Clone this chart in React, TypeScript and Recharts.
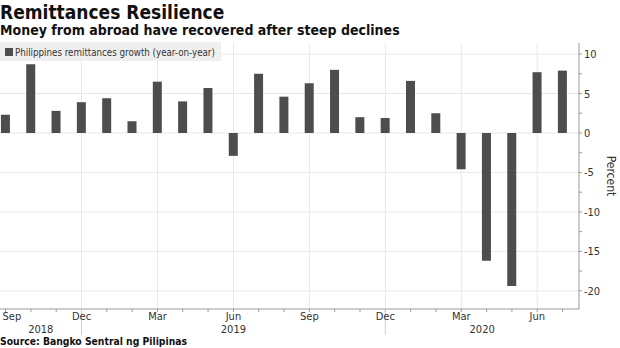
import { BarChart, Bar, XAxis, YAxis, CartesianGrid } from "recharts";

const MONTHS = [
  "Sep", "Oct", "Nov", "Dec",
  "Jan", "Feb", "Mar", "Apr", "May", "Jun", "Jul", "Aug", "Sep", "Oct", "Nov", "Dec",
  "Jan", "Feb", "Mar", "Apr", "May", "Jun", "Jul",
];
const YEARS = ["2018", "2019", "2020"];
// year of each month, by index into YEARS
const MONTH_YEAR = [0, 0, 0, 0, 1, 1, 1, 1, 1, 1, 1, 1, 1, 1, 1, 1, 2, 2, 2, 2, 2, 2, 2];
const GROWTH = [
  2.3, 8.7, 2.8, 3.9,
  4.4, 1.5, 6.5, 4.0, 5.7, -2.9, 7.5, 4.6, 6.3, 8.0, 2.0, 1.9,
  6.6, 2.5, -4.6, -16.2, -19.4, 7.7, 7.9,
];
const Y_TICKS = [-20, -17.5, -15, -12.5, -10, -7.5, -5, -2.5, 0, 2.5, 5, 7.5, 10];
const Y_GRID = [-20, -15, -10, -5, 0, 5, 10];

const FONT = '"DejaVu Sans Condensed", "DejaVu Sans", sans-serif';
const BAR = "#4d4d4d";
const GRID = "#e8e8e8";
const AXIS = "#9a9a9a";
const TEXT = "#333";

const X_DOMAIN: [number, number] = [-0.22, 22.65];

const data = MONTHS.map((m, i) => ({ idx: i, month: m, growth: GROWTH[i] }));

// year labels sit halfway between the Dec separators (or the axis ends)
const yearTicks = YEARS.map((_, y) => {
  const idxs = MONTH_YEAR.map((v, i) => (v === y ? i : -1)).filter((i) => i >= 0);
  const lo = y === 0 ? X_DOMAIN[0] : idxs[0] - 1;
  const hi = y === YEARS.length - 1 ? X_DOMAIN[1] : idxs[idxs.length - 1];
  return (lo + hi) / 2;
});

// quarter months (after the first) get a vertical grid line
const gridX = MONTHS.map((_, i) => i).filter((i) => i % 3 === 0 && i > 0);

function MonthTick(props: any) {
  const { x, y, payload } = props;
  const i = payload.value as number;
  const m = MONTHS[i];
  const first = i === 0;
  return (
    <g>
      <line x1={x} x2={x} y1={y} y2={y + 3} stroke={AXIS} />
      {m === "Dec" && <line x1={x} x2={x} y1={y} y2={y + 26} stroke="#d0d0d0" />}
      {i % 3 === 0 && (
        <text
          x={first ? x - 3 : x}
          y={y + 11}
          textAnchor={first ? "start" : "middle"}
          fontSize={11}
          fontFamily={FONT}
          fill={TEXT}
        >
          {m}
        </text>
      )}
    </g>
  );
}

function YearTick(props: any) {
  const { x, y, index } = props;
  return (
    <text x={x} y={y + 10} textAnchor="middle" fontSize={11} fontFamily={FONT} fill={TEXT}>
      {YEARS[index]}
    </text>
  );
}

function ValueTick(props: any) {
  const { x, y, payload } = props;
  const v = payload.value as number;
  return (
    <g>
      <line x1={x} x2={x + 3} y1={y} y2={y} stroke={AXIS} />
      {v % 5 === 0 && (
        <text x={x + 5} y={y + 4} fontSize={11} fontFamily={FONT} fill={TEXT}>
          {v}
        </text>
      )}
    </g>
  );
}

function PercentLabel(props: any) {
  const { viewBox } = props;
  const x = viewBox.x + viewBox.width - 13;
  const y = viewBox.y + viewBox.height / 2;
  return (
    <text
      x={x}
      y={y}
      transform={`rotate(90, ${x}, ${y})`}
      textAnchor="middle"
      fontSize={12}
      fontFamily={FONT}
      fill={TEXT}
    >
      Percent
    </text>
  );
}

export default function App() {
  return (
    <div style={{ position: "absolute", left: 0, top: 0, width: 620, height: 348, background: "#fff" }}>
      <BarChart width={620} height={348} data={data} margin={{ top: 43, right: 0, bottom: 11, left: 0 }}>
        <CartesianGrid
          xAxisId="m"
          stroke={GRID}
          horizontalValues={Y_GRID}
          verticalValues={gridX}
        />
        <XAxis
          xAxisId="m"
          type="number"
          dataKey="idx"
          domain={X_DOMAIN}
          ticks={MONTHS.map((_, i) => i)}
          interval={0}
          allowDataOverflow
          tick={<MonthTick />}
          tickLine={false}
          tickSize={0}
          tickMargin={0}
          height={14}
          axisLine={{ stroke: AXIS }}
        />
        <XAxis
          xAxisId="y"
          type="number"
          dataKey="idx"
          domain={X_DOMAIN}
          ticks={yearTicks}
          interval={0}
          allowDataOverflow
          tick={<YearTick />}
          tickLine={false}
          tickSize={0}
          tickMargin={0}
          height={14}
          axisLine={false}
        />
        <YAxis
          orientation="right"
          type="number"
          domain={[-22.3, 11.4]}
          ticks={Y_TICKS}
          interval={0}
          allowDataOverflow
          tick={<ValueTick />}
          tickLine={false}
          tickSize={0}
          tickMargin={0}
          width={41}
          axisLine={{ stroke: AXIS }}
          label={<PercentLabel />}
        />
        <Bar xAxisId="m" dataKey="growth" fill={BAR} barSize={9} isAnimationActive={false} />
      </BarChart>
      <svg width={620} height={348} style={{ position: "absolute", left: 0, top: 0, pointerEvents: "none" }}>
        <text x={0} y={19} fontSize={19} fontWeight="bold" fontFamily={FONT} fill="#111">
          Remittances Resilience
        </text>
        <text x={0} y={35} fontSize={14} fontWeight="bold" fontFamily={FONT} fill="#111">
          Money from abroad have recovered after steep declines
        </text>
        <rect x={0} y={42} width={221} height={19} fill="#efefef" />
        <rect x={5} y={48} width={8} height={8} fill={BAR} />
        <text x={15} y={56} fontSize={9.7} fontFamily={FONT} fill={TEXT}>
          Philippines remittances growth (year-on-year)
        </text>
        <text x={0} y={345} fontSize={10.3} fontWeight="bold" fontFamily={FONT} fill="#111">
          Source: Bangko Sentral ng Pilipinas
        </text>
      </svg>
    </div>
  );
}
